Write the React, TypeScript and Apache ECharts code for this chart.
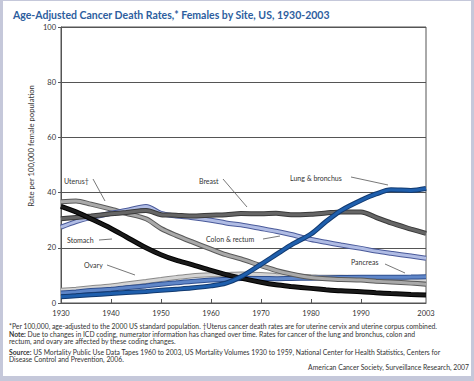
import React, { useEffect, useRef } from "react";
import * as echarts from "echarts";

const years = [1930, 1933, 1936, 1940, 1943, 1947, 1950, 1953, 1956, 1960, 1963, 1966, 1970, 1973, 1976, 1980, 1983, 1986, 1990, 1993, 1996, 2000, 2003];

const lungBronchus = [2.3, 2.6, 3.0, 3.4, 3.8, 4.2, 4.6, 5.0, 5.4, 6.2, 7.2, 9.5, 14.0, 17.5, 21.0, 25.0, 29.5, 33.5, 37.2, 39.5, 41.0, 40.8, 41.5];
const breast = [30.5, 31.0, 31.5, 32.3, 32.8, 33.5, 32.0, 31.8, 31.5, 31.8, 32.0, 32.4, 32.3, 32.5, 32.0, 32.2, 32.6, 33.0, 33.0, 31.0, 29.0, 26.8, 25.2];
const colonRectum = [27.5, 29.5, 31.0, 32.5, 33.5, 35.0, 32.5, 31.5, 31.0, 30.0, 29.0, 28.3, 27.0, 26.0, 24.8, 23.0, 22.0, 21.0, 19.8, 18.8, 18.0, 17.0, 16.2];
const uterus = [36.7, 37.0, 35.8, 34.0, 32.5, 30.5, 27.0, 24.5, 22.3, 19.5, 17.5, 16.0, 13.5, 11.8, 10.5, 9.2, 8.8, 8.5, 8.3, 7.9, 7.6, 7.2, 6.8];
const stomach = [35.0, 33.0, 30.5, 27.0, 24.0, 20.0, 17.5, 15.5, 14.0, 11.8, 10.3, 9.0, 7.5, 6.6, 6.0, 5.3, 4.8, 4.4, 4.1, 3.7, 3.4, 3.1, 2.9];
const ovary = [4.6, 5.0, 5.5, 6.2, 6.9, 7.8, 8.5, 9.2, 9.8, 10.2, 10.3, 10.5, 10.3, 10.0, 9.8, 9.5, 9.3, 9.3, 9.2, 9.0, 8.8, 8.5, 8.2];
const pancreas = [3.6, 4.0, 4.5, 5.0, 5.5, 6.2, 6.8, 7.3, 7.8, 8.3, 8.6, 8.9, 8.9, 8.8, 8.9, 9.0, 9.1, 9.2, 9.3, 9.3, 9.3, 9.4, 9.5];

const xLabelValues = [1930, 1940, 1950, 1960, 1970, 1980, 1990, 2003];
const xTickValues = [1940, 1950, 1960, 1970, 1980, 1990];

const titleText = "Age-Adjusted Cancer Death Rates,* Females by Site, US, 1930-2003";
const yAxisTitle = "Rate per 100,000 female population";
const footnotes = [
  "*Per 100,000, age-adjusted to the 2000 US standard population. \u2020Uterus cancer death rates are for uterine cervix and uterine corpus combined.",
  "{b|Note:} Due to changes in ICD coding, numerator information has changed over time. Rates for cancer of the lung and bronchus, colon and",
  "rectum, and ovary are affected by these coding changes.",
  "{b|Source:} US Mortality Public Use Data Tapes 1960 to 2003, US Mortality Volumes 1930 to 1959, National Center for Health Statistics, Centers for",
  "Disease Control and Prevention, 2006.",
];
const creditText = "American Cancer Society, Surveillance Research, 2007";

const FONT = "Lato, 'Liberation Sans', sans-serif";

const sites = [
  { name: "Ovary", data: ovary, edge: "#8a8a8a", fill: "#d4d4d4" },
  { name: "Pancreas", data: pancreas, edge: "#2f4f8f", fill: "#5f86c8" },
  { name: "Uterus", data: uterus, edge: "#5a5a5a", fill: "#a9a9a9" },
  { name: "Colon & rectum", data: colonRectum, edge: "#4a5a9a", fill: "#b0bce4" },
  { name: "Breast", data: breast, edge: "#3a3a3a", fill: "#666666" },
  { name: "Stomach", data: stomach, edge: "#000000", fill: "#1a1a1a" },
  { name: "Lung & bronchus", data: lungBronchus, edge: "#123a70", fill: "#1f5fad" },
];

const annotations = [
  { text: "Uterus\u2020", x: 64, y: 181, line: [93, 179, 105, 201] },
  { text: "Breast", x: 199, y: 181, line: [223, 179, 247, 207] },
  { text: "Lung & bronchus", x: 290, y: 178, line: [351, 177, 388, 185] },
  { text: "Stomach", x: 67, y: 240, line: [99, 240, 112, 239] },
  { text: "Colon & rectum", x: 206, y: 239, line: [263, 239, 280, 236] },
  { text: "Ovary", x: 84, y: 265, line: [107, 265, 135, 275] },
  { text: "Pancreas", x: 351, y: 262, line: [385, 264, 405, 273] },
];

export default function App() {
  const ref = useRef<HTMLDivElement>(null);

  useEffect(() => {
    document.body.style.margin = "0";
    if (!ref.current) return;
    const chart = echarts.init(ref.current, undefined, { renderer: "svg" });

    const series: any[] = [];
    sites.forEach((s) => {
      const d = years.map((y, i) => [y, s.data[i]]);
      series.push({
        type: "line",
        name: s.name + "-edge",
        data: d,
        showSymbol: false,
        smooth: 0.3,
        lineStyle: { color: s.edge, width: 5 },
        silent: true,
      });
      series.push({
        type: "line",
        name: s.name,
        data: d,
        showSymbol: false,
        smooth: 0.3,
        lineStyle: { color: s.fill, width: 3 },
        silent: true,
      });
    });

    const graphics: any[] = [
      {
        type: "text",
        x: 31,
        y: 146,
        rotation: Math.PI / 2,
        style: {
          text: yAxisTitle,
          fontSize: 7.7,
          fontFamily: FONT,
          fill: "#333",
          align: "center",
          verticalAlign: "middle",
        },
      },
    ];
    const footY = [326, 334, 341, 352, 359];
    footnotes.forEach((t, i) => {
      graphics.push({
        type: "text",
        x: 9,
        y: footY[i],
        style: {
          text: t,
          fontSize: 6.8,
          fontFamily: FONT,
          fill: "#333",
          verticalAlign: "middle",
          rich: {
            b: { fontSize: 6.8, fontFamily: FONT, fontWeight: "bold", fill: "#333" },
          },
        },
      });
    });
    graphics.push({
      type: "text",
      x: 469,
      y: 367,
      style: {
        text: creditText,
        fontSize: 6.8,
        fontFamily: FONT,
        fill: "#333",
        align: "right",
        verticalAlign: "middle",
      },
    });
    annotations.forEach((a) => {
      graphics.push({
        type: "text",
        x: a.x,
        y: a.y,
        style: {
          text: a.text,
          fontSize: 7,
          fontFamily: FONT,
          fill: "#333",
          verticalAlign: "middle",
        },
      });
      graphics.push({
        type: "line",
        shape: { x1: a.line[0], y1: a.line[1], x2: a.line[2], y2: a.line[3] },
        style: { stroke: "#555", lineWidth: 0.8 },
      });
    });

    chart.setOption({
      animation: false,
      title: {
        text: titleText,
        left: 8,
        top: 4,
        textStyle: { fontSize: 10.5, fontWeight: "bold", color: "#2d5e9e", fontFamily: FONT },
      },
      grid: {
        left: 61,
        right: 48,
        top: 27,
        bottom: 78,
        show: true,
        borderColor: "#555",
        borderWidth: 1,
        backgroundColor: "#fff",
      },
      xAxis: {
        type: "value",
        min: 1930,
        max: 2003,
        splitLine: { show: false },
        axisLine: { show: true, lineStyle: { color: "#555", width: 1 } },
        axisTick: {
          show: true,
          inside: true,
          length: 4,
          customValues: xTickValues,
          lineStyle: { color: "#555" },
        },
        axisLabel: {
          customValues: xLabelValues,
          formatter: (v: number) => String(v),
          fontSize: 7.5,
          color: "#333",
          fontFamily: FONT,
          margin: 6,
        },
      },
      yAxis: {
        type: "value",
        min: 0,
        max: 100,
        interval: 20,
        splitLine: { show: true, lineStyle: { color: "#555", width: 1 } },
        axisLine: { show: true, lineStyle: { color: "#555", width: 1 } },
        axisTick: { show: true, length: 3, lineStyle: { color: "#555" } },
        axisLabel: { fontSize: 7.5, color: "#333", fontFamily: FONT, margin: 5 },
      },
      series,
      graphic: graphics,
    });

    return () => chart.dispose();
  }, []);

  return (
    <div style={{ position: "relative", width: 474, height: 381, background: "#c5c8da" }}>
      <div
        style={{ position: "absolute", left: 3, top: 1, width: 468, height: 375, background: "#ffffff" }}
      />
      <div ref={ref} style={{ position: "absolute", left: 0, top: 0, width: 474, height: 381 }} />
    </div>
  );
}
